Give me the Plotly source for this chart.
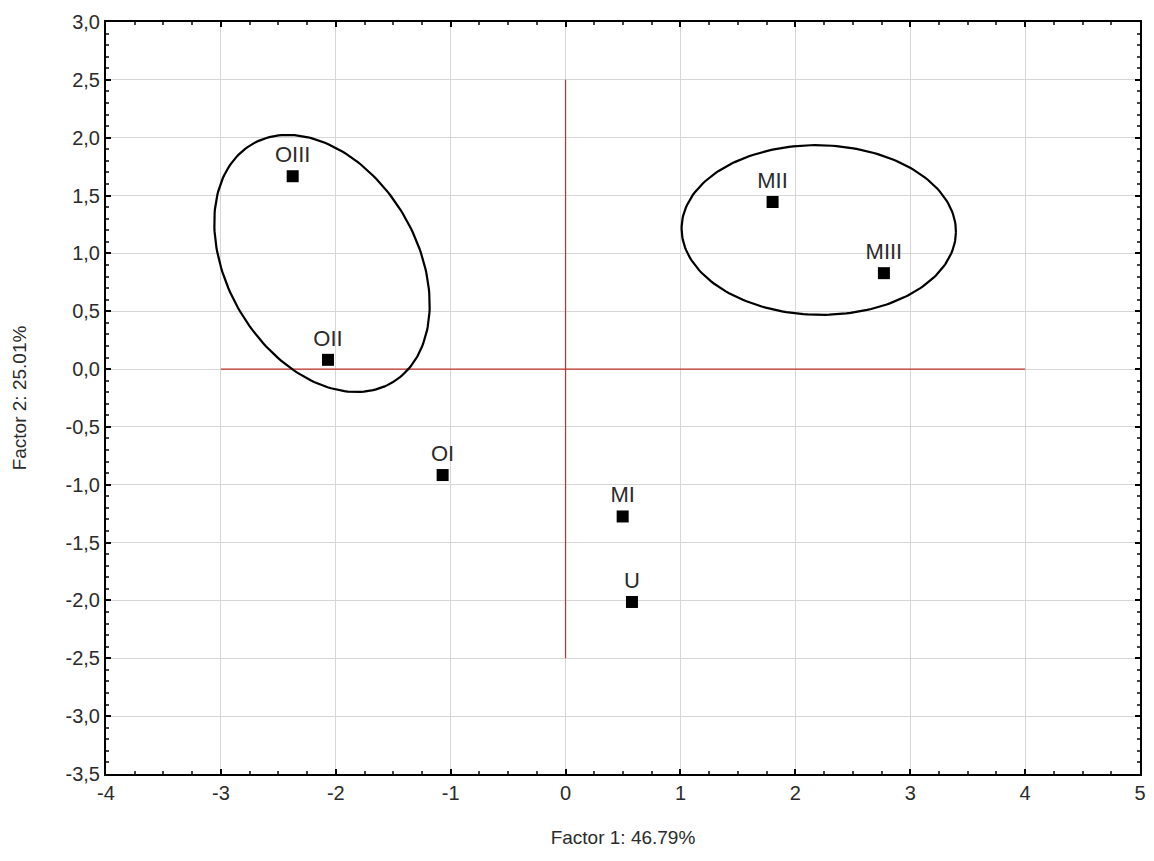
import numpy as np
import plotly.graph_objects as go

# ---- data ----
labels = ["OIII", "OII", "OI", "MI", "U", "MII", "MIII"]
factor1 = [-2.375, -2.068, -1.070, 0.497, 0.578, 1.802, 2.771]
factor2 = [1.667, 0.080, -0.916, -1.274, -2.013, 1.444, 0.829]

x_ticks = [-4, -3, -2, -1, 0, 1, 2, 3, 4, 5]
y_ticks = [3.0, 2.5, 2.0, 1.5, 1.0, 0.5, 0.0, -0.5, -1.0, -1.5, -2.0, -2.5, -3.0, -3.5]

# reference cross (red lines)
h_line_x = [-3, 4]
h_line_y = [0, 0]
v_line_x = [0, 0]
v_line_y = [-2.5, 2.5]

# ellipses: center x, center y, semi-major, semi-minor, angle (deg)
ellipse_left = (-2.12, 0.913, 1.197, 0.825, -59.1)
ellipse_right = (2.204, 1.202, 1.194, 0.733, -1.0)

font_family = "Arial, Liberation Sans, sans-serif"
text_color = "#2b2b2b"

fig = go.Figure()

fig.add_trace(go.Scatter(x=h_line_x, y=h_line_y, mode="lines",
                         line=dict(color="#c03028", width=1.2),
                         hoverinfo="skip", showlegend=False))
fig.add_trace(go.Scatter(x=v_line_x, y=v_line_y, mode="lines",
                         line=dict(color="#c03028", width=1.2),
                         hoverinfo="skip", showlegend=False))


def ellipse_pts(cx, cy, a, b, ang):
    t = np.linspace(0, 2 * np.pi, 200)
    th = np.deg2rad(ang)
    ex = a * np.cos(t)
    ey = b * np.sin(t)
    return (cx + ex * np.cos(th) - ey * np.sin(th),
            cy + ex * np.sin(th) + ey * np.cos(th))


for e in (ellipse_left, ellipse_right):
    ex, ey = ellipse_pts(*e)
    fig.add_trace(go.Scatter(x=ex, y=ey, mode="lines",
                             line=dict(color="black", width=2.2),
                             hoverinfo="skip", showlegend=False))

fig.add_trace(go.Scatter(
    x=factor1, y=factor2, mode="markers+text",
    text=labels, textposition="top center",
    textfont=dict(family=font_family, size=22, color=text_color),
    marker=dict(symbol="square", size=12, color="black"),
    showlegend=False))

axis_common = dict(
    showgrid=True, gridcolor="#d6d6d6", gridwidth=1,
    zeroline=False, showline=True, linecolor="black", linewidth=2,
    mirror="allticks", ticks="inside", ticklen=5, tickcolor="black", tickwidth=1.5,
    tickfont=dict(family=font_family, size=20, color=text_color),
    automargin=False,
)

fig.update_xaxes(
    range=[-4, 5], tickvals=x_ticks, ticktext=[str(v) for v in x_ticks],
    minor=dict(dtick=0.25, ticks="inside", ticklen=3, tickcolor="#444", showgrid=False),
    title=dict(text="Factor 1: 46.79%", font=dict(family=font_family, size=19, color=text_color), standoff=28),
    **axis_common)
fig.update_yaxes(
    range=[-3.5, 3.0], tickvals=y_ticks,
    ticktext=[f"{v:.1f}".replace(".", ",") for v in y_ticks],
    minor=dict(dtick=0.1, ticks="inside", ticklen=3, tickcolor="#444", showgrid=False),
    title=dict(text="Factor 2: 25.01%", font=dict(family=font_family, size=19, color=text_color), standoff=34),
    **axis_common)

fig.update_layout(
    width=1146, height=853,
    margin=dict(l=98, r=14, t=14, b=87),
    paper_bgcolor="white", plot_bgcolor="white",
    font=dict(family=font_family, color=text_color),
)

fig.write_html("out.html")
